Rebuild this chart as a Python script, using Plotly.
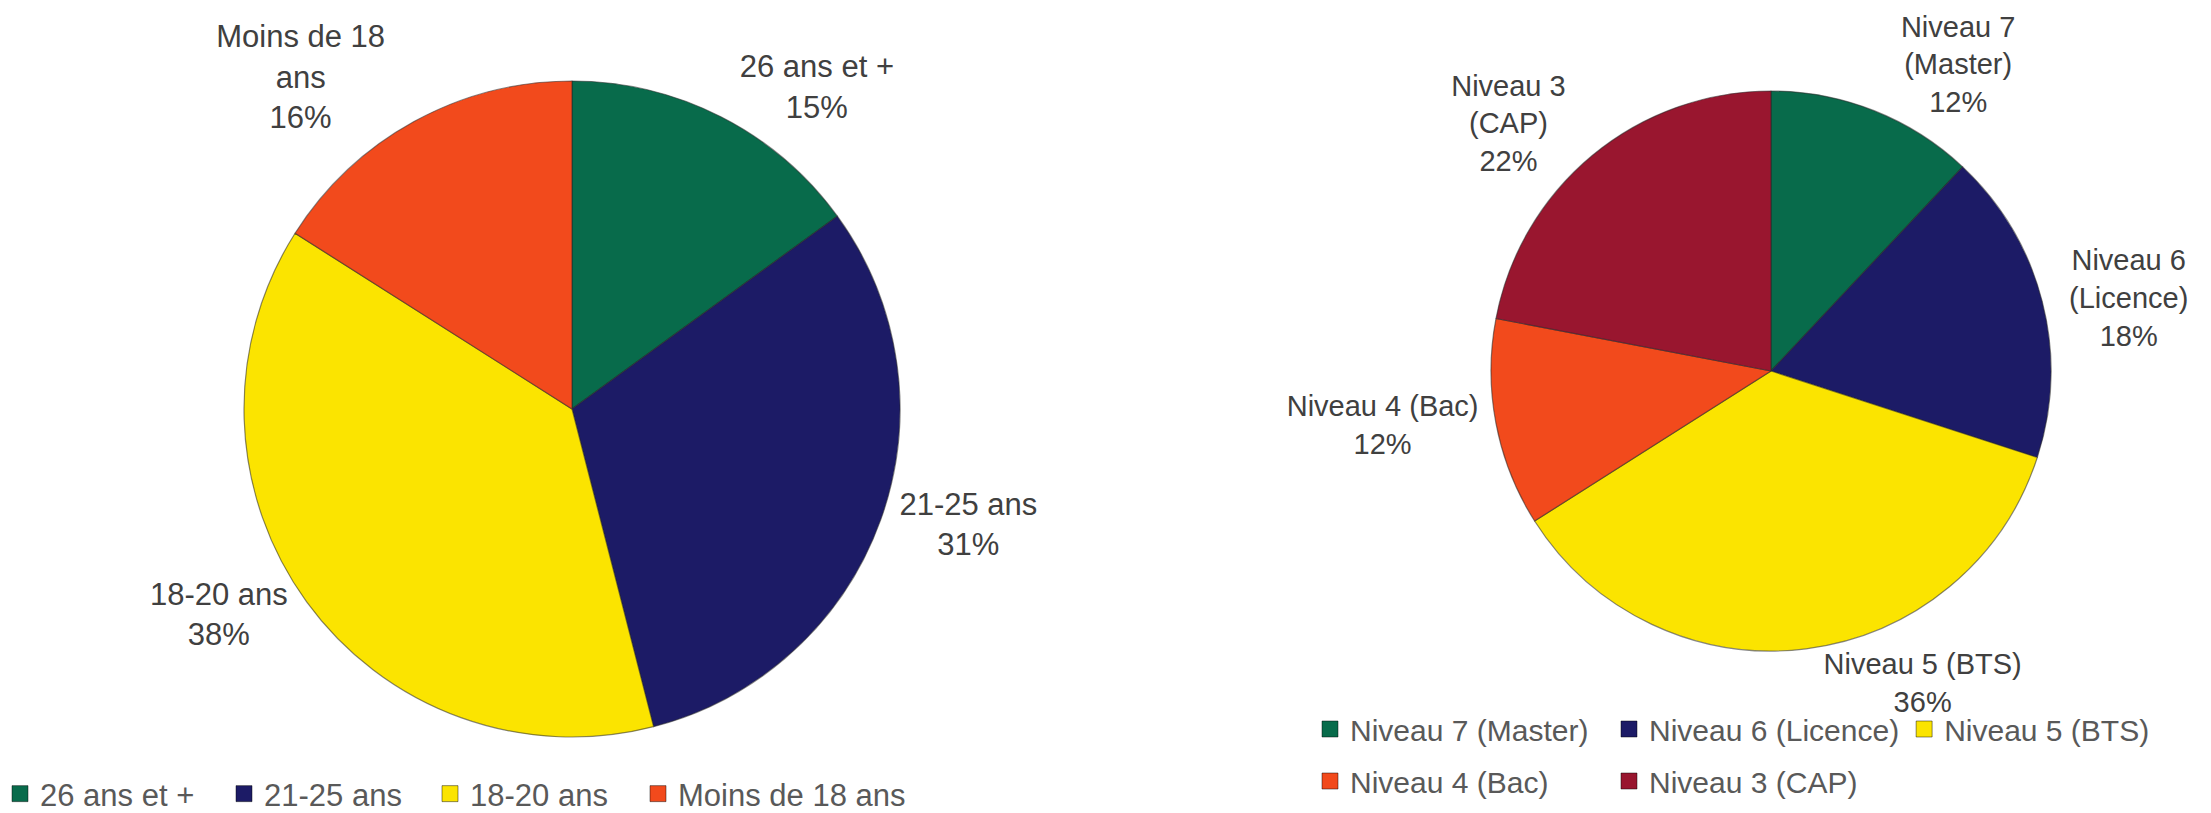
import plotly.graph_objects as go

# Left pie: age groups
age_labels = ["26 ans et +", "21-25 ans", "18-20 ans", "Moins de 18 ans"]
age_display = ["26 ans et +", "21-25 ans", "18-20 ans", "Moins de 18<br>ans"]
age_values = [15, 31, 38, 16]
age_colors = ["#086B4B", "#1C1B66", "#FBE400", "#F24A1C"]

# Right pie: education levels
lvl_labels = ["Niveau 7 (Master)", "Niveau 6 (Licence)", "Niveau 5 (BTS)",
              "Niveau 4 (Bac)", "Niveau 3 (CAP)"]
lvl_display = ["Niveau 7<br>(Master)", "Niveau 6<br>(Licence)", "Niveau 5 (BTS)",
               "Niveau 4 (Bac)", "Niveau 3<br>(CAP)"]
lvl_values = [12, 18, 36, 12, 22]
lvl_colors = ["#086B4B", "#1C1B66", "#FBE400", "#F24A1C", "#99162F"]

FONT = "Liberation Sans, Arial, sans-serif"
LABEL_COLOR = "#404040"
LEGEND_COLOR = "#595959"
W, H = 2211, 813
SLICE_LINE = dict(color="rgba(40,40,40,0.55)", width=1.2)

fig = go.Figure()

fig.add_trace(go.Pie(
    labels=age_labels, values=age_values, text=age_display,
    texttemplate="%{text}<br>%{value}%", textposition="outside",
    marker=dict(colors=age_colors, line=SLICE_LINE),
    sort=False, direction="clockwise", rotation=0,
    domain=dict(x=[234 / W, 894 / W], y=[(813 - 729) / H, (813 - 73) / H]),
    outsidetextfont=dict(family=FONT, size=31, color=LABEL_COLOR),
    showlegend=False, hoverinfo="label+percent",
))

fig.add_trace(go.Pie(
    labels=lvl_labels, values=lvl_values, text=lvl_display,
    texttemplate="%{text}<br>%{value}%", textposition="outside",
    marker=dict(colors=lvl_colors, line=SLICE_LINE),
    sort=False, direction="clockwise", rotation=0,
    domain=dict(x=[1483 / W, 2043 / W], y=[(813 - 643) / H, (813 - 83) / H]),
    outsidetextfont=dict(family=FONT, size=29, color=LABEL_COLOR),
    showlegend=False, hoverinfo="label+percent",
))

# Legend entries (one per category), laid out like the original legends
age_legend_widths = [179, 161, 163, None]
for lab, col, lw in zip(age_labels, age_colors, age_legend_widths):
    fig.add_trace(go.Scatter(
        x=[None], y=[None], mode="markers", name=lab, legend="legend",
        marker=dict(symbol="square", size=17, color=col,
                    line=dict(color="rgba(0,0,0,0.45)", width=1)),
        legendwidth=lw, hoverinfo="skip",
    ))

lvl_legend_rows = ["legend2", "legend2", "legend2", "legend3", "legend3"]
lvl_legend_widths = [254, None, None, 254, None]
for lab, col, lg, lw in zip(lvl_labels, lvl_colors, lvl_legend_rows, lvl_legend_widths):
    fig.add_trace(go.Scatter(
        x=[None], y=[None], mode="markers", name=lab, legend=lg,
        marker=dict(symbol="square", size=17, color=col,
                    line=dict(color="rgba(0,0,0,0.45)", width=1)),
        legendwidth=lw, hoverinfo="skip",
    ))

legend_common = dict(orientation="h", xanchor="left", yanchor="bottom",
                     itemwidth=30, bgcolor="rgba(0,0,0,0)", traceorder="normal",
                     itemclick=False, itemdoubleclick=False)

fig.update_layout(
    width=W, height=H,
    margin=dict(l=0, r=0, t=0, b=0, autoexpand=False),
    paper_bgcolor="white", plot_bgcolor="white",
    font=dict(family=FONT, size=30, color=LEGEND_COLOR),
    xaxis=dict(visible=False), yaxis=dict(visible=False),
    legend=dict(x=-8 / W, y=0, font=dict(family=FONT, size=31, color=LEGEND_COLOR),
                **legend_common),
    legend2=dict(x=1302 / W, y=66 / H, font=dict(family=FONT, size=30, color=LEGEND_COLOR),
                 **legend_common),
    legend3=dict(x=1302 / W, y=14 / H, font=dict(family=FONT, size=30, color=LEGEND_COLOR),
                 **legend_common),
)

fig.write_html("out.html")
